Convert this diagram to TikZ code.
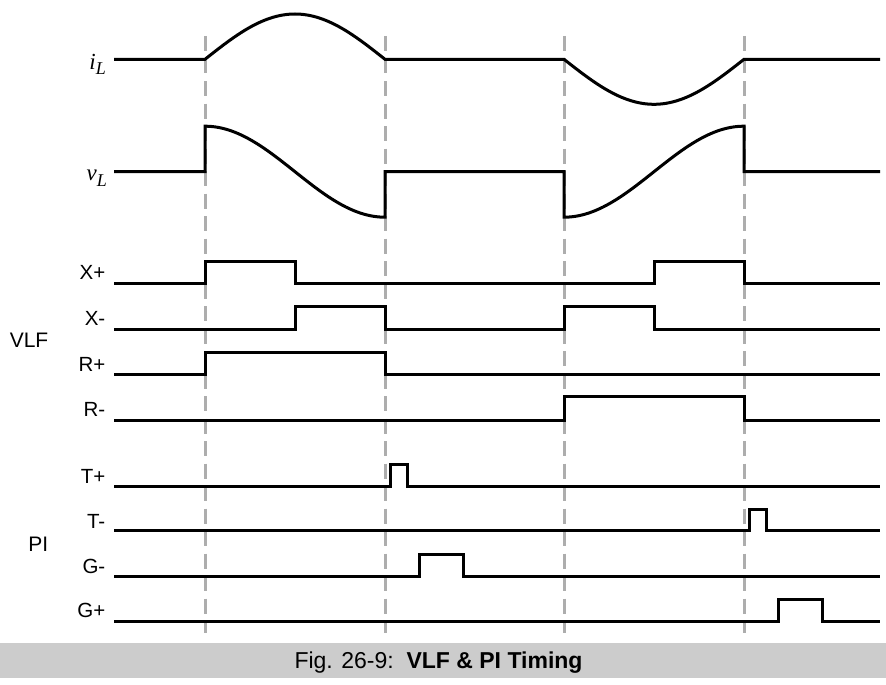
\documentclass[tikz,border=0pt]{standalone}
\usepackage{fontspec}
\setmainfont{Liberation Sans}
\newfontfamily\lserif{Liberation Serif}
\begin{document}
\begin{tikzpicture}[x=1pt,y=-1pt,
  sig/.style={line width=3pt,line join=miter,line cap=butt},
  grid/.style={line width=3pt,color=black!32,dash pattern=on 15pt off 7.5pt},
  lab/.style={anchor=base east,inner sep=0pt,font=\fontsize{20.5}{21}\selectfont},
  grp/.style={anchor=base east,inner sep=0pt,font=\fontsize{21}{22}\selectfont},
  mlab/.style={anchor=base east,inner sep=0pt,font=\fontsize{23}{24}\selectfont\lserif\itshape}]
\useasboundingbox (0,0) rectangle (886,685);
% caption bar
\fill[black!20] (0,643) rectangle (886,678);
\node[anchor=base,inner sep=0pt,font=\fontsize{23}{24}\selectfont] (cap) at (438.5,668)
  {Fig. 26-9:\ \ \textbf{VLF \& PI Timing}};
% dashed time markers
\foreach \xx/\nm in {205/t1,385/t2,564/t3,744/t4}{
  \coordinate (\nm top) at (\xx,36);
  \coordinate (\nm bot) at (\xx,633);
  \draw[grid] (\nm top) -- (\nm bot);
}
% labels
\node[mlab] (liL) at (106,70) {i\raisebox{-5pt}{\fontsize{18}{18}\selectfont L}};
\node[mlab] (lvL) at (107,180) {v\raisebox{-6pt}{\fontsize{18}{18}\selectfont L}};
\node[lab] (lXp) at (105.5,279) {X+};
\node[lab] (lXm) at (105.5,325) {X-};
\node[lab] (lRp) at (105.5,371.7) {R+};
\node[lab] (lRm) at (105.5,416.7) {R-};
\node[lab] (lTp) at (105.5,483) {T+};
\node[lab] (lTm) at (105.5,528) {T-};
\node[lab] (lGm) at (105.5,573) {G-};
\node[lab] (lGp) at (105.5,617) {G+};
\node[grp] (lVLF) at (48.5,347) {VLF};
\node[grp] (lPI) at (48.5,551) {PI};
% i_L
\draw[sig] (114,59.3) -- (205,59.3)
  -- plot[domain=0:180,samples=61] ({205+\x},{59.3-45.3*sin(\x)})
  -- (564,59.3)
  -- plot[domain=0:180,samples=61] ({564+\x},{59.3+45*sin(\x)})
  -- (880,59.3);
% v_L
\draw[sig] (114,171.7) -- (205,171.7) -- (205,126.2)
  -- plot[domain=0:180,samples=61] ({205+\x},{171.7-45.5*cos(\x)})
  -- (385,171.7) -- (564,171.7) -- (564,217.2)
  -- plot[domain=0:180,samples=61] ({564+\x},{171.7+45.5*cos(\x)})
  -- (744,171.7) -- (880,171.7);
% X+
\draw[sig] (114,283.3) -- (205,283.3) -- (205,261.7) -- (295,261.7) -- (295,283.3)
  -- (654,283.3) -- (654,261.7) -- (744,261.7) -- (744,283.3) -- (880,283.3);
% X-
\draw[sig] (114,329.3) -- (295,329.3) -- (295,306.7) -- (385,306.7) -- (385,329.3)
  -- (564,329.3) -- (564,306.7) -- (654,306.7) -- (654,329.3) -- (880,329.3);
% R+
\draw[sig] (114,374.3) -- (205,374.3) -- (205,352.7) -- (385,352.7) -- (385,374.3) -- (880,374.3);
% R-
\draw[sig] (114,420) -- (564,420) -- (564,396.7) -- (744,396.7) -- (744,420) -- (880,420);
% T+
\draw[sig] (114,486.7) -- (390.5,486.7) -- (390.5,464) -- (407,464) -- (407,486.7) -- (880,486.7);
% T-
\draw[sig] (114,530.7) -- (749.5,530.7) -- (749.5,509.3) -- (766.5,509.3) -- (766.5,530.7) -- (880,530.7);
% G-
\draw[sig] (114,576) -- (419,576) -- (419,554) -- (463.5,554) -- (463.5,576) -- (880,576);
% G+
\draw[sig] (114,621.7) -- (778,621.7) -- (778,599) -- (822.5,599) -- (822.5,621.7) -- (880,621.7);
\end{tikzpicture}
\end{document}
